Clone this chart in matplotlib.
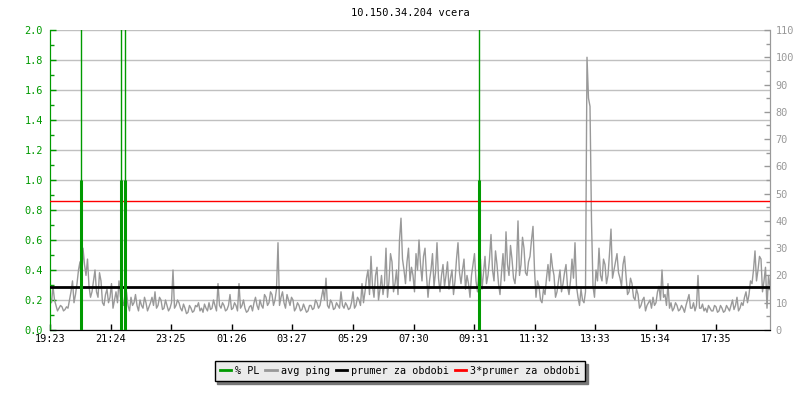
import matplotlib
matplotlib.use("Agg")
import matplotlib.pyplot as plt
from matplotlib.ticker import MultipleLocator, FormatStrFormatter, FixedLocator
import numpy as np

title = "10.150.34.204 vcera"
tick_labels = ["19:23", "21:24", "23:25", "01:26", "03:27", "05:29",
               "07:30", "09:31", "11:32", "13:33", "15:34", "17:35"]
span_minutes = 1440

# avg ping [ms], one sample every 3 minutes from 19:23
avg_ping = [
    # 19:23 - 21:23
    12, 10, 16, 11, 9, 7, 8, 9, 8.5, 7, 7.5, 8.5, 8, 11, 14, 18, 10, 13, 17, 22,
    25, 16, 30, 24, 20, 26, 16, 12, 14, 18, 22, 14, 12, 21, 18, 10, 9, 13, 15, 10,
    12, 17, 8, 11, 14, 10, 18, 12, 13, 9, 11, 14, 9, 7, 12, 9, 10, 13, 9, 7,
    11, 9, 8, 12, 10, 7, 8.5, 10, 12, 9, 14, 8, 9, 12, 11, 7.5, 8, 11, 9, 7,
    8, 10,
    # 23:29 - 03:17
    22, 8, 9, 11, 10, 8, 7, 9.5, 8, 6, 6.5, 9, 8, 6.5, 7, 9, 8.5, 10, 7, 8,
    6.5, 9.5, 8, 7, 10, 7.5, 8, 11, 9, 7, 17, 9, 8, 10, 9, 7, 7.5, 9, 13, 7.5,
    8, 10, 9, 7, 17, 8, 9, 11, 8, 6.5, 7, 8.5, 9, 7, 10, 12, 9, 7.5, 11, 9,
    8, 13, 12, 9, 10, 14, 13, 9, 11, 15, 32, 9, 12, 14, 10, 8, 13, 11, 9, 12,
    # 03:23 - 07:17
    11, 7, 8, 10, 9, 7, 7.5, 9.5, 8, 6.5, 7, 9, 9, 7.5, 8, 11, 10, 8, 9, 12,
    15, 11, 19, 9, 8, 11, 10, 7.5, 8, 10, 9, 8, 14, 9, 8, 10, 9, 7.5, 8, 10,
    14, 8, 9, 12, 11, 9, 17, 10, 14, 19, 22, 13, 27, 16, 12, 20, 23, 11, 15, 20,
    13, 17, 30, 12, 18, 28, 25, 14, 17, 22, 13, 33, 41, 26, 22, 17, 25, 30, 18, 23,
    # 07:23 - 11:17
    20, 14, 28, 22, 33, 24, 18, 27, 30, 20, 12, 18, 22, 28, 16, 21, 32, 19, 14, 20,
    24, 16, 20, 25, 15, 19, 22, 13, 18, 26, 32, 21, 17, 22, 26, 15, 20, 17, 12, 20,
    24, 28, 18, 14, 22, 26, 15, 21, 27, 17, 20, 26, 35, 22, 18, 29, 24, 17, 13, 21,
    28, 18, 36, 24, 20, 31, 26, 19, 17, 23, 40, 20, 24, 34, 30, 21, 20, 25, 27, 33,
    # 11:23 - 15:17
    38, 22, 12, 18, 16, 11, 10, 15, 13, 19, 24, 18, 28, 23, 20, 12, 14, 18, 22, 14,
    17, 21, 24, 16, 13, 18, 26, 19, 32, 16, 12, 9, 15, 11, 10, 14, 100, 85, 82, 40,
    16, 12, 22, 18, 30, 20, 18, 26, 24, 17, 20, 28, 37, 19, 22, 25, 28, 21, 19, 16,
    24, 27, 20, 13, 14, 19, 17, 12, 11, 15, 13, 8, 9, 11, 12, 7, 9, 10, 11, 8,
    # 15:23 - 19:23
    12, 9, 10, 14, 16, 11, 22, 12, 13, 9, 17, 8, 10, 7, 8, 10, 9, 7, 7.5, 9,
    8, 6.5, 9, 11, 13, 8, 8, 10, 7, 9, 20, 8, 8, 9.5, 7, 8, 6.5, 9, 8, 7,
    7, 9, 8.5, 6.5, 7, 9, 8, 6.5, 7, 9, 8, 7, 9, 11, 7.5, 9, 12, 7, 8, 10,
    9, 12, 14, 10, 13, 18, 17, 22, 29, 18, 22, 27, 26, 14, 18, 23, 8, 20, 16,
]
ping_mean = 15.8          # prumer za obdobi [ms]
ping_mean3 = 47.4         # 3*prumer za obdobi [ms]

# packet loss events: minute offset, peak value (off scale), shoulder value
pl_minutes = [61, 141, 150, 858]
pl_peak = [100, 100, 100, 100]
pl_shoulder = [1.0, 1.0, 1.0, 1.0]

GREEN = "#009a00"
GRAY = "#999999"
FONT = "DejaVu Sans Mono"
FS = 7.1

plt.rcParams["font.family"] = FONT

def to_min(lbl):
    h, m = map(int, lbl.split(":"))
    t = h * 60 + m
    t0 = 19 * 60 + 23
    return (t - t0) % 1440

fig = plt.figure(figsize=(8, 4), dpi=100)
ax = fig.add_axes([50 / 800, 70 / 400, 720 / 800, 300 / 400])
ax2 = ax.twinx()

ping_x = np.linspace(0, span_minutes, len(avg_ping))

# left axis (% PL)
ax.set_xlim(0, span_minutes)
ax.set_ylim(0, 2.0)
ax.yaxis.set_major_locator(MultipleLocator(0.2))
ax.yaxis.set_minor_locator(MultipleLocator(0.1))
ax.yaxis.set_major_formatter(FormatStrFormatter("%.1f"))
ax.grid(axis="y", color="#c0c0c0", lw=1)
ax.set_axisbelow(True)
ax.tick_params(axis="y", which="both", direction="in", colors=GREEN,
               labelsize=FS + 0.3, pad=5)
ax.tick_params(axis="y", which="major", length=4, width=1)
ax.tick_params(axis="y", which="minor", length=3, width=1)
ax.xaxis.set_major_locator(FixedLocator([to_min(l) for l in tick_labels]))
ax.set_xticklabels(tick_labels)
ax.tick_params(axis="x", direction="in", length=4, width=1, colors="black",
               labelsize=FS + 0.3, pad=3)

# right axis (ms)
ax2.set_ylim(0, 110)
ax2.yaxis.set_major_locator(MultipleLocator(10))
ax2.yaxis.set_minor_locator(MultipleLocator(5))
ax2.tick_params(axis="y", which="both", direction="in", colors=GRAY,
                labelsize=FS + 0.3, pad=4)
ax2.tick_params(axis="y", which="major", length=4, width=1)
ax2.tick_params(axis="y", which="minor", length=3, width=1)

for a in (ax, ax2):
    a.spines["top"].set_visible(False)
    a.spines["left"].set_color(GREEN)
    a.spines["right"].set_color(GRAY)
    a.spines["bottom"].set_color("black")

ax2.plot(ping_x, avg_ping, color=GRAY, lw=1, label="avg ping", zorder=2)
ax2.axhline(ping_mean, color="black", lw=2, label="prumer za obdobi", zorder=3)
ax2.axhline(ping_mean3, color="red", lw=1, label="3*prumer za obdobi", zorder=3)
ax2.vlines(pl_minutes, 0, pl_peak, color=GREEN, lw=1, transform=ax.transData, zorder=4)
ax2.vlines(pl_minutes, 0, pl_shoulder, color=GREEN, lw=2.2,
           transform=ax.transData, zorder=4, label="% PL")

handles = [plt.Line2D([], [], color=GREEN, lw=2),
           plt.Line2D([], [], color=GRAY, lw=2),
           plt.Line2D([], [], color="black", lw=2),
           plt.Line2D([], [], color="red", lw=2)]
labels = ["% PL", "avg ping", "prumer za obdobi", "3*prumer za obdobi"]
leg = fig.legend(handles, labels, loc="center", bbox_to_anchor=(0.5, 0.0725),
                 ncol=4, fontsize=FS + 0.2, frameon=True, fancybox=False,
                 shadow={"color": "#777777", "alpha": 1.0},
                 edgecolor="black", facecolor="#ebebeb", framealpha=1,
                 handlelength=1.1, handletextpad=0.4, columnspacing=0.6,
                 borderpad=0.5, borderaxespad=0)
leg.get_frame().set_linewidth(1)

fig.text(0.513, 1 - 13 / 400, title, ha="center", va="center", fontsize=FS + 0.4)

fig.savefig("out.png", dpi=100)
